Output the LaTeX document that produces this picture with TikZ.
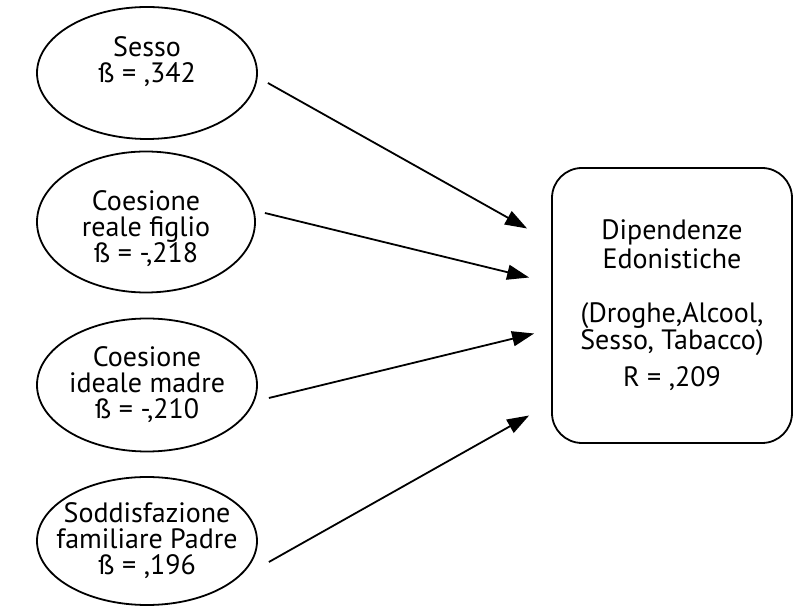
\documentclass[tikz,border=0pt]{standalone}
\usepackage{fontspec}
\setmainfont{PT Sans}
\usetikzlibrary{arrows.meta, shapes.geometric, positioning}

\begin{document}
\begin{tikzpicture}[x=1pt, y=1pt, line width=1.8pt,
        every node/.style={font=\fontsize{28}{26}\selectfont, align=center},
        predictor/.style={draw, ellipse, minimum width=220pt, minimum height=132pt, inner sep=-20pt},
        outcome/.style={draw, rounded corners=30pt, minimum width=240pt, minimum height=275pt, inner sep=0pt},
        effect/.style={-{Triangle[length=22pt, width=15pt]}}]

        \useasboundingbox (0,0) rectangle (797,607);

        % --- PREDITTORI ---
        \node[predictor] (sesso) at (147,534) {Sesso\\ß = ,342\\\mbox{}};
        \node[predictor, minimum width=218pt, minimum height=141pt] (figlio) at (146,385) {\rule{0pt}{34pt}Coesione\\reale figlio\\ß = -,218};
        \node[predictor, minimum height=133pt] (madre) at (147,222) {Coesione\\ideale madre\\ß = -,210};
        \node[predictor, minimum height=128pt] (padre) at (147,66) {Soddisfazione\\familiare Padre\\ß = ,196};

        % --- VARIABILE DIPENDENTE ---
        \node[outcome] (dip) at (672,301.5) {Dipendenze\\[3pt]Edonistiche\\[28pt](Droghe,Alcool,\\Sesso, Tabacco)\\[10pt]R = ,209};

        % Frecce
        \draw[effect] ([shift={(10,-10)}]sesso.east) -- ([shift={(-24,77)}]dip.west);
        \draw[effect] ([shift={(9,9)}]figlio.east) -- ([shift={(-22,28)}]dip.west);
        \draw[effect] ([shift={(11,-13)}]madre.east) -- ([shift={(-17,-28)}]dip.west);
        \draw[effect] ([shift={(11,-21)}]padre.east) -- ([shift={(-22,-110)}]dip.west);

    \end{tikzpicture}
\end{document}
